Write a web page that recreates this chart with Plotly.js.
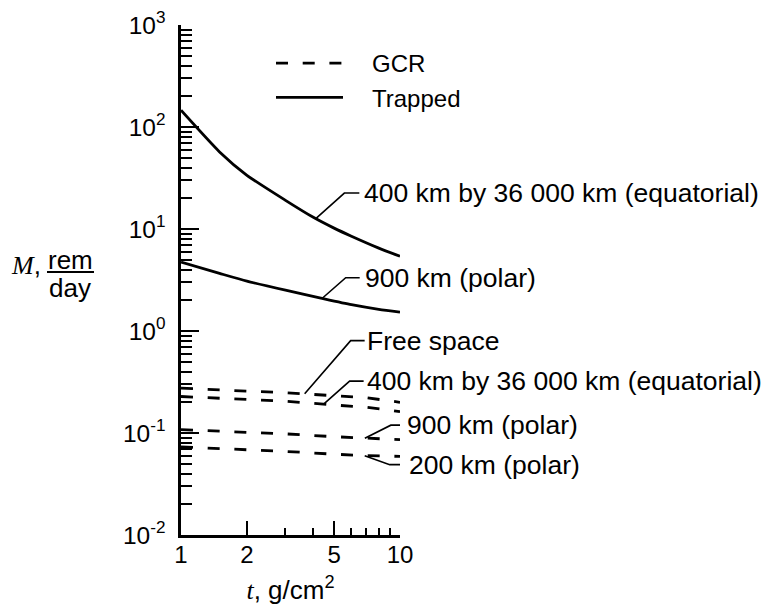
<!DOCTYPE html>
<html>
<head>
<meta charset="utf-8">
<script src="https://cdn.plot.ly/plotly-3.0.1.min.js"></script>
<style>html,body{margin:0;padding:0;background:#fff}</style>
</head>
<body>
<div id="chart" style="width:768px;height:607px"></div>
<script>
// ---------- data ----------
// GCR (dashed) curves, shielding thickness t in g/cm2
const gcrThickness = [1, 2, 3, 5, 7, 10];
const gcrFreeSpace = [0.275, 0.258, 0.248, 0.232, 0.222, 0.200];
const gcrEquatorial = [0.228, 0.214, 0.205, 0.188, 0.179, 0.162];
const gcrPolar900 = [0.108, 0.102, 0.098, 0.092, 0.089, 0.086];
const gcrPolar200 = [0.073, 0.069, 0.066, 0.062, 0.060, 0.059];

// Trapped (solid) curves
const trappedEqThickness = [1, 1.5, 2, 3, 4, 5, 6, 8, 10];
const trappedEquatorial = [146, 57, 33.6, 19.1, 13.1, 10.2, 8.5, 6.5, 5.4];
const trappedPolarThickness = [1, 1.5, 2, 3, 4.35, 6, 8, 10];
const trappedPolar900 = [4.73, 3.67, 3.08, 2.51, 2.10, 1.81, 1.63, 1.53];

// Axis ticks
const xTickVals = [1, 2, 5, 10];
const xTickText = ['1', '2', '5', '10'];
const xMinorVals = [3, 4, 6, 7, 8, 9];
const yTickVals = [0.01, 0.1, 1, 10, 100, 1000];
const yTickText = ['10<sup>-2</sup>', '10<sup>-1</sup>', '10<sup>0</sup>', '10<sup>1</sup>', '10<sup>2</sup>', '10<sup>3</sup>'];

// Curve labels and the point on each curve their leader touches
const labelTexts = ['400 km by 36 000 km (equatorial)', '900 km (polar)', 'Free space',
                    '400 km by 36 000 km (equatorial)', '900 km (polar)', '200 km (polar)'];
const labelAtX = [4.15, 4.39, 3.67, 4.48, 6.91, 6.9];
const labelAtY = [12.8, 2.07, 0.243, 0.192, 0.089, 0.060];

// ---------- layout helpers (pixel geometry only) ----------
const L = 181, T = 25, W = 219, H = 510;
const px = v => (v - L) / W;
const py = v => 1 - (v - T) / H;
// leader geometry: knee offset (dx, dy; screen pixels, dy down) and horizontal stub length
const leaderKnee = [[28, -25], [24, -21], [46, -53], [26, -23], [26, -13], [25, 9]];
const leaderStub = [15, 14, 14, 14, 11, 12];
const textGap = [3, 3, 0, 1, 3, 5];

const FONT = 'Liberation Sans, Arial, Helvetica, sans-serif';
const SERIF = 'Liberation Serif, Times New Roman, serif';
const DASH = '12px,14.7px';
const LW = 2.8;

function gcrTrace(y, name, show) {
  return {x: gcrThickness, y: y, type: 'scatter', mode: 'lines', name: name,
          legendgroup: 'gcr', showlegend: show, hoverinfo: 'skip',
          line: {color: '#000', width: LW, dash: DASH}};
}
function trappedTrace(x, y, name, show) {
  return {x: x, y: y, type: 'scatter', mode: 'lines', name: name,
          legendgroup: 'trapped', showlegend: show, hoverinfo: 'skip',
          line: {color: '#000', width: LW, shape: 'spline', smoothing: 0.6}};
}

const data = [
  gcrTrace(gcrFreeSpace, '\u2002\u2002GCR', true),
  gcrTrace(gcrEquatorial, 'GCR 400 km by 36 000 km', false),
  gcrTrace(gcrPolar900, 'GCR 900 km', false),
  gcrTrace(gcrPolar200, 'GCR 200 km', false),
  trappedTrace(trappedEqThickness, trappedEquatorial, '\u2002\u2002Trapped', true),
  trappedTrace(trappedPolarThickness, trappedPolar900, 'Trapped 900 km', false)
];

const yMinor = [];
for (let d = -2; d <= 2; d++) for (let k = 2; k <= 9; k++) yMinor.push(k * Math.pow(10, d));

const annotations = [];
const shapes = [];
labelTexts.forEach((txt, i) => {
  const [dx, dy] = leaderKnee[i];
  const s = leaderStub[i];
  // leader: slanted segment then short horizontal stub, sized in pixels from the curve point
  shapes.push({type: 'path', xref: 'x', yref: 'y', xsizemode: 'pixel', ysizemode: 'pixel',
    xanchor: labelAtX[i], yanchor: labelAtY[i],
    path: 'M0,0L' + dx + ',' + (-dy) + 'L' + (dx + s) + ',' + (-dy),
    line: {color: '#000', width: 1.6}});
  annotations.push({x: Math.log10(labelAtX[i]), y: Math.log10(labelAtY[i]), xref: 'x', yref: 'y',
    xshift: dx + s + textGap[i], yshift: -dy, text: txt, showarrow: false,
    xanchor: 'left', yanchor: 'middle', font: {family: FONT, size: 26.5, color: '#000'}});
});
// y-axis title  M, rem/day
annotations.push({xref: 'paper', yref: 'paper', x: px(26), y: py(265), showarrow: false,
  text: '<span style="font-family:' + SERIF + '"><i>M</i></span>,', xanchor: 'center', yanchor: 'middle',
  font: {family: FONT, size: 26, color: '#000'}});
annotations.push({xref: 'paper', yref: 'paper', x: px(70.5), y: py(260), showarrow: false,
  text: 'rem', xanchor: 'center', yanchor: 'middle', font: {family: FONT, size: 26, color: '#000'}});
annotations.push({xref: 'paper', yref: 'paper', x: px(70.5), y: py(288), showarrow: false,
  text: 'day', xanchor: 'center', yanchor: 'middle', font: {family: FONT, size: 26, color: '#000'}});
shapes.push({type: 'line', xref: 'paper', yref: 'paper', x0: px(47), x1: px(94), y0: py(272), y1: py(272),
             line: {color: '#000', width: 2}});

const layout = {
  width: 768, height: 607,
  margin: {l: L, r: 768 - L - W, t: T, b: 607 - T - H, pad: 0},
  paper_bgcolor: '#fff', plot_bgcolor: '#fff',
  font: {family: FONT, size: 24, color: '#000'},
  showlegend: true,
  legend: {x: px(271), y: py(41), xanchor: 'left', yanchor: 'top', bgcolor: 'rgba(0,0,0,0)',
           borderwidth: 0, itemwidth: 67, tracegroupgap: 0, font: {family: FONT, size: 24, color: '#000'},
           traceorder: 'normal', itemclick: false, itemdoubleclick: false},
  xaxis: {type: 'log', range: [0, 1], showgrid: false, zeroline: false, automargin: false,
          showline: true, linecolor: '#000', linewidth: 2.6, mirror: false,
          ticks: 'inside', ticklen: 14, tickwidth: 2, tickcolor: '#000',
          tickmode: 'array', tickvals: xTickVals, ticktext: xTickText, ticklabelstandoff: -3,
          tickfont: {family: FONT, size: 24, color: '#000'},
          minor: {tickmode: 'array', tickvals: xMinorVals, ticks: 'inside', ticklen: 7, tickwidth: 2, tickcolor: '#000', showgrid: false},
          title: {text: '<span style="font-family:' + SERIF + '"><i>t</i></span>, g/cm<sup>2</sup>', standoff: 14,
                  font: {family: FONT, size: 26, color: '#000'}}},
  yaxis: {type: 'log', range: [-2, 3], showgrid: false, zeroline: false, automargin: false,
          showline: true, linecolor: '#000', linewidth: 2.6, mirror: false,
          ticks: 'inside', ticklen: 18, tickwidth: 2, tickcolor: '#000',
          tickmode: 'array', tickvals: yTickVals, ticktext: yTickText, ticklabelstandoff: 8,
          tickfont: {family: FONT, size: 24.5, color: '#000'},
          minor: {tickmode: 'array', tickvals: yMinor, ticks: 'inside', ticklen: 11, tickwidth: 2, tickcolor: '#000', showgrid: false}},
  annotations: annotations,
  shapes: shapes
};

Plotly.newPlot('chart', data, layout, {staticPlot: true, displayModeBar: false});
</script>
</body>
</html>
